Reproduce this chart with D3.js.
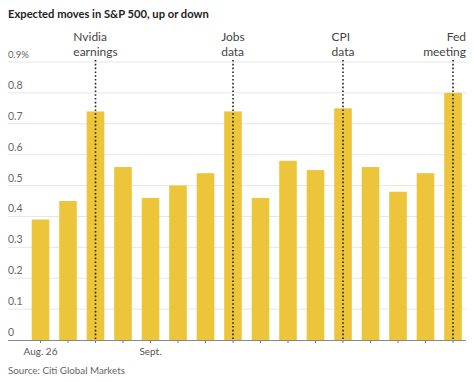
<!DOCTYPE html>
<html><head><meta charset="utf-8">
<script src="https://cdn.jsdelivr.net/npm/d3@7"></script>
<style>
body{margin:0;background:#fff;}
text{font-family:Lato,"Open Sans",sans-serif;}
</style></head>
<body>
<svg id="chart" width="474" height="382"></svg>
<script>
const days = ["Aug 26","Aug 27","Aug 28","Aug 29","Aug 30","Sep 3","Sep 4","Sep 5","Sep 6","Sep 9","Sep 10","Sep 11","Sep 12","Sep 13","Sep 16","Sep 17"];
const moves = [0.39,0.45,0.74,0.56,0.46,0.50,0.54,0.74,0.46,0.58,0.55,0.75,0.56,0.48,0.54,0.80];
const yTicks = [0,0.1,0.2,0.3,0.4,0.5,0.6,0.7,0.8,0.9];
const xLabels = [{day:"Aug 26", text:"Aug. 26"},{day:"Aug 30", text:"Sept."}];
const events = [
  {day:"Aug 28", lines:["Nvidia","earnings"], align:"block"},
  {day:"Sep 5", lines:["Jobs","data"], align:"block"},
  {day:"Sep 11", lines:["CPI","data"], align:"block"},
  {day:"Sep 17", lines:["Fed","meeting"], align:"end"}
];

const svg = d3.select("#chart");
const left = 8, right = 466;
const x = d3.scaleBand().domain(days).range([26.75, 466.75]).paddingInner(0.36).paddingOuter(0.18);
const y = d3.scaleLinear().domain([0, 0.9]).range([340, 62]);

svg.append("text").attr("x", 8).attr("y", 18).attr("font-size", 11.2).attr("font-weight", 700)
  .attr("fill", "#222").text("Expected moves in S&P 500, up or down");

// gridlines
const g = svg.append("g");
g.selectAll("line.grid").data(yTicks.filter(d => d > 0)).join("line")
  .attr("x1", left).attr("x2", right).attr("y1", d => y(d)).attr("y2", d => y(d))
  .attr("stroke", "#e6e6e6").attr("stroke-width", 1);
g.selectAll("text.yt").data(yTicks).join("text")
  .attr("x", left).attr("y", d => y(d) - 4).attr("font-size", d => d === 0.9 ? 9.5 : 10.5)
  .attr("fill", "#666").text(d => d === 0 ? "0" : d === 0.9 ? "0.9%" : d3.format(".1f")(d));

// bars
svg.append("g").selectAll("rect").data(days).join("rect")
  .attr("x", d => x(d)).attr("width", x.bandwidth())
  .attr("y", (d, i) => y(moves[i])).attr("height", (d, i) => y(0) - y(moves[i]))
  .attr("fill", "#ecc53b");

// x axis
const xAxis = d3.axisBottom(x).tickSize(3).tickFormat("");
const ax = svg.append("g").attr("transform", `translate(0,${y(0)})`).call(xAxis);
ax.select(".domain").remove();
ax.selectAll(".tick line").attr("stroke", "#777");
svg.append("line").attr("x1", left).attr("x2", right).attr("y1", y(0) + 0.5).attr("y2", y(0) + 0.5)
  .attr("stroke", "#888").attr("stroke-width", 1.2);
svg.selectAll("text.xl").data(xLabels).join("text")
  .attr("x", d => x(d.day) + x.bandwidth() / 2).attr("y", 355).attr("text-anchor", "middle")
  .attr("font-size", 10).attr("fill", "#555").text(d => d.text);

// event lines
const ev = svg.append("g");
events.forEach(e => {
  const cx = x(e.day) + x.bandwidth() / 2;
  ev.append("line").attr("x1", cx).attr("x2", cx).attr("y1", y(0.9) - 2).attr("y2", y(0))
    .attr("stroke", "#222").attr("stroke-width", 1.6).attr("stroke-dasharray", "1.6,2.2");
  const t = ev.append("text").attr("font-size", 12).attr("fill", "#444");
  const spans = e.lines.map((l, i) => t.append("tspan").attr("y", 41 + i * 15).text(l));
  if (e.align === "end") {
    t.attr("text-anchor", "end");
    spans.forEach(s => s.attr("x", 466));
  } else {
    const w = d3.max(spans.map(s => s.node().getComputedTextLength()));
    spans.forEach(s => s.attr("x", cx - w / 2));
  }
});

svg.append("text").attr("x", 8).attr("y", 374).attr("font-size", 9.8).attr("fill", "#666")
  .text("Source: Citi Global Markets");
</script>
</body></html>
